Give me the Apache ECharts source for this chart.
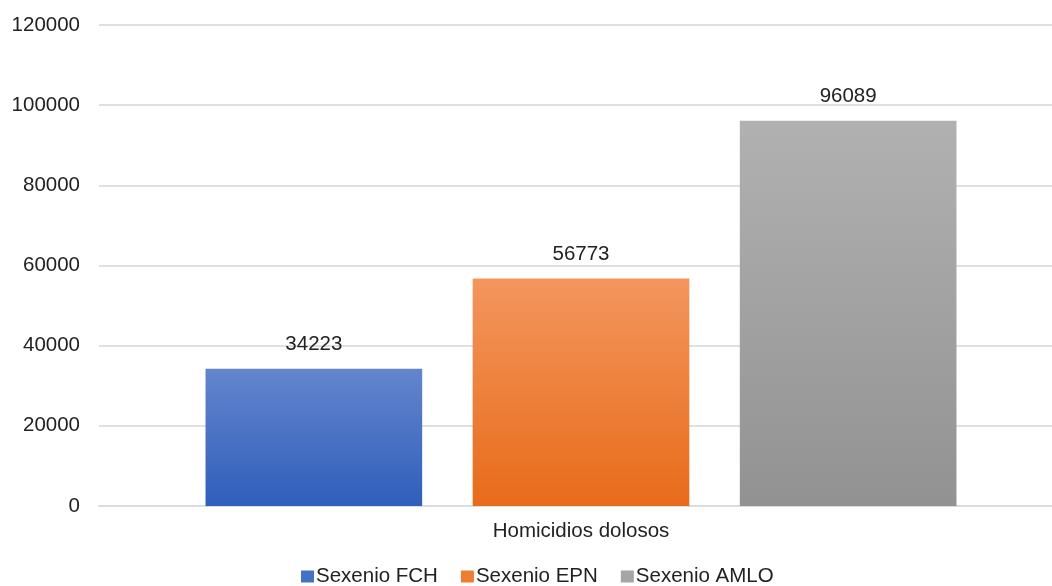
<!DOCTYPE html>
<html>
<head>
<meta charset="utf-8">
<script src="https://cdn.jsdelivr.net/npm/echarts@6/dist/echarts.min.js"></script>
<style>
  html, body { margin: 0; padding: 0; background: #ffffff; overflow: hidden; }
  #chart { width: 1063px; height: 586px; }
</style>
</head>
<body>
<div id="chart"></div>
<script>
// Homicidios dolosos por sexenio
const categories = ['Homicidios dolosos'];
const seriesNames = ['Sexenio FCH', 'Sexenio EPN', 'Sexenio AMLO'];
const fchValues = [34223];
const epnValues = [56773];
const amloValues = [96089];
const yTicks = [0, 20000, 40000, 60000, 80000, 100000, 120000];

const gradients = [
  ['#6385cd', '#2f5fba'],
  ['#f3965e', '#e86b1a'],
  ['#b1b1b1', '#929292']
];
const legendColors = ['#4472c4', '#ed7d31', '#a5a5a5'];

const font = '"Liberation Sans", Arial, sans-serif';
const fs = 20.5;

function grad(pair) {
  return new echarts.graphic.LinearGradient(0, 0, 0, 1, [
    { offset: 0, color: pair[0] },
    { offset: 1, color: pair[1] }
  ]);
}

const valueSets = [fchValues, epnValues, amloValues];

const chart = echarts.init(document.getElementById('chart'));
chart.setOption({
  animation: false,
  backgroundColor: '#ffffff',
  grid: { left: 99, right: 0, top: 25, bottom: 80, containLabel: false },
  legend: {
    bottom: -6,
    left: 296,
    itemWidth: 13,
    itemHeight: 12,
    itemGap: 23,
    icon: 'rect',
    textStyle: { fontFamily: font, fontSize: fs, color: '#222222', padding: [0, 0, 0, -3] },
    data: seriesNames.map((n, i) => ({ name: n, itemStyle: { color: legendColors[i] } }))
  },
  xAxis: {
    type: 'category',
    data: categories,
    axisLine: { show: true, lineStyle: { color: '#d9dde3', width: 2 } },
    axisTick: { show: false },
    axisLabel: { fontFamily: font, fontSize: fs, color: '#222222', margin: 15 }
  },
  yAxis: {
    type: 'value',
    min: yTicks[0],
    max: yTicks[yTicks.length - 1],
    interval: yTicks[1] - yTicks[0],
    axisLine: { show: false },
    axisTick: { show: false },
    axisLabel: { fontFamily: font, fontSize: fs, color: '#222222', margin: 19, formatter: v => String(v) },
    splitLine: { lineStyle: { color: '#dde1e6', width: 2 } }
  },
  series: seriesNames.map((name, i) => ({
    name: name,
    type: 'bar',
    data: valueSets[i],
    barGap: '23.3%',
    barCategoryGap: '22.1%',
    itemStyle: { color: grad(gradients[i]) },
    label: {
      show: true,
      position: 'top',
      distance: 14,
      fontFamily: font,
      fontSize: fs,
      color: '#222222'
    }
  }))
});
</script>
</body>
</html>
